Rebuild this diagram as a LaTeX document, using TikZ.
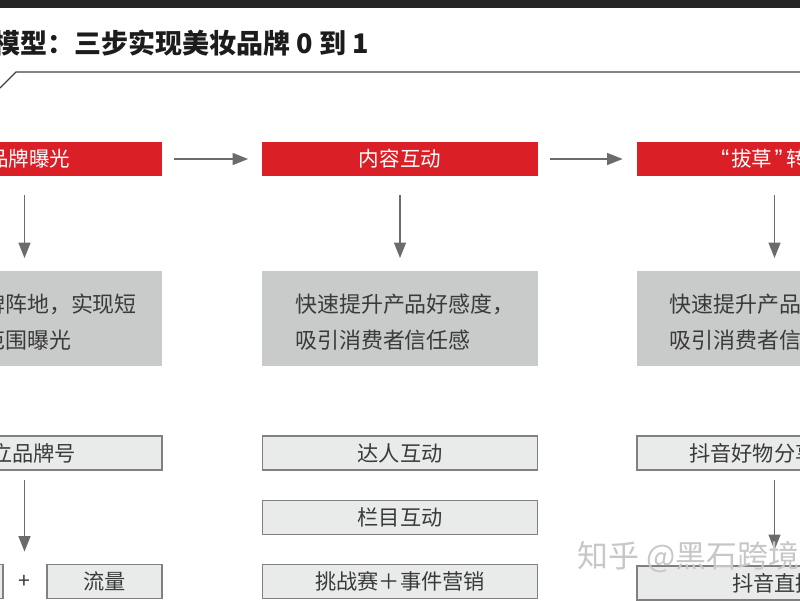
\documentclass[tikz,border=0pt]{standalone}
\usepackage{fontspec}
\usetikzlibrary{arrows.meta}
\newfontfamily\cjk{Noto Sans CJK SC}
\newfontfamily\quotefont{Liberation Sans}
\definecolor{barred}{RGB}{219,31,38}
\definecolor{goalgray}{RGB}{201,202,202}
\definecolor{taglight}{RGB}{233,234,234}
\definecolor{tagedge}{RGB}{128,128,128}
\definecolor{textdark}{RGB}{58,58,58}
\definecolor{titleink}{RGB}{28,28,28}
\tikzset{
  redbar/.style={fill=barred, minimum width=6.875cm, minimum height=0.85cm, inner sep=0pt},
  goalbox/.style={fill=goalgray, minimum width=6.875cm, minimum height=2.375cm, inner sep=0pt},
  tagbox/.style={fill=taglight, draw=tagedge, line width=0.8pt, minimum width=6.875cm, minimum height=0.85cm, inner sep=0pt},
  barlabel/.style={text=white, inner sep=0pt, font=\cjk\fontsize{14.6}{16}\selectfont},
  goallabel/.style={text=textdark, align=left, inner sep=0pt, font=\cjk\fontsize{15.6}{25.6}\selectfont},
  taglabel/.style={text=textdark, inner sep=0pt, font=\cjk\fontsize{15.1}{17}\selectfont},
  flow/.style={draw=black!58, line width=1pt, -{Triangle[length=11pt,width=8.5pt]}},
}

\begin{document}
\begin{tikzpicture}[x=0.025cm, y=-0.025cm]
		%%%%% START %%%%%
		\useasboundingbox (0,0) rectangle (800,600);
		\clip (0,0) rectangle (800,600);
		
		\fill[black!85] (0,0) rectangle (800,8);
		\node[anchor=west, inner sep=0pt, text=titleink, font=\cjk\bfseries\fontsize{19.2}{22}\selectfont] (title) at (-7,43) {模型：三步实现美妆品牌 0 到 1};
		\draw[line width=0.9pt, color=black!75] (0,88) -- (16,72) -- (800,72);
		
		% red step bars
		\node[redbar] (expo) at (24.5,159) {};
		\node[redbar] (inter) at (400,159) {};
		\node[redbar] (conv) at (774.5,159) {};
		\node[barlabel, anchor=west] (expoText) at (-12,159) {品牌曝光};
		\node[barlabel] (interText) at (400,159) {内容互动};
		\node[barlabel, anchor=west] (convText) at (721,159) {{\quotefont\fontsize{17}{18}\selectfont“}\hspace{1.5pt}拔草\hspace{1.5pt}{\quotefont\fontsize{17}{18}\selectfont”}\hspace{3pt}转};
		
		\draw[flow, shorten <=8.5pt, shorten >=10pt] (expo.east) -- (inter.west);
		\draw[flow, shorten <=8.5pt, shorten >=10pt] (inter.east) -- (conv.west);
		
		% goal boxes
		\node[goalbox] (expoGoal) at (24.5,318.5) {};
		\node[goalbox] (interGoal) at (400,318.5) {};
		\node[goalbox] (convGoal) at (774.5,318.5) {};
		\node[goallabel, anchor=west] (expoGoalText) at (-17,322) {牌阵地，实现短\\范围曝光};
		\node[goallabel, anchor=west] (interGoalText) at (295,322) {快速提升产品好感度，\\吸引消费者信任感};
		\node[goallabel, anchor=west] (convGoalText) at (669.5,322) {快速提升产品\\吸引消费者信};
		
		\draw[flow, shorten <=13.5pt, shorten >=9pt] (expo.south) -- (expoGoal.north);
		\draw[flow, shorten <=13.5pt, shorten >=9pt] (inter.south) -- (interGoal.north);
		\draw[flow, shorten <=13.5pt, shorten >=9pt] (conv.south) -- (convGoal.north);
		
		% tag boxes
		\node[tagbox] (brandAcc) at (24.5,453) {};
		\node[taglabel, anchor=west] (brandAccText) at (-9,453) {立品牌号};
		\node[tagbox, minimum width=2.875cm] (leftTag) at (-54.5,581.5) {};
		\node[taglabel, minimum height=0.85cm] (plus) at (24.5,581.5) {+};
		\node[tagbox, minimum width=2.875cm, taglabel] (traffic) at (104.5,581.5) {流量};
		
		\node[tagbox, taglabel] (talent) at (400,453) {达人互动};
		\node[tagbox, taglabel] (column) at (400,517.5) {栏目互动};
		\node[tagbox, taglabel] (challenge) at (400,581.5) {挑战赛＋事件营销};
		
		\node[tagbox] (share) at (774.5,453) {};
		\node[taglabel, anchor=west] (shareText) at (689,453) {抖音好物分享};
		\node[tagbox, taglabel] (live) at (774.5,583) {抖音直播};
		
		\draw[flow, shorten <=7pt, shorten >=9pt] (brandAcc.south) -- (plus.north);
		\draw[flow, shorten <=7pt, shorten >=11pt] (share.south) -- (live.north);
		
		\node[anchor=west, inner sep=0pt, text=black!22, font=\cjk\fontsize{22}{24}\selectfont] (mark) at (577,557) {知乎 @黑石跨境};
		
		%%%%% END %%%%%
	\end{tikzpicture}
\end{document}
